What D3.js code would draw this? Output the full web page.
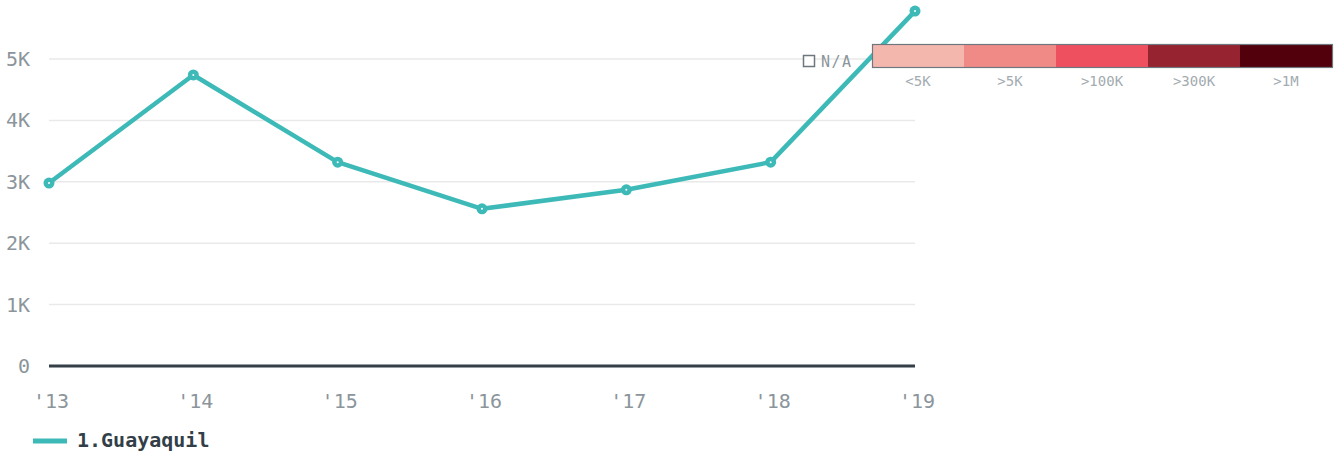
<!DOCTYPE html>
<html>
<head>
<meta charset="utf-8">
<script src="https://cdn.jsdelivr.net/npm/d3@7"></script>
<style>
  body { margin: 0; background: #fff; }
  svg { display: block; font-family: "DejaVu Sans Mono", "Liberation Mono", monospace; }
</style>
</head>
<body>
<div id="chart"></div>
<script>
const years = ["'13", "'14", "'15", "'16", "'17", "'18", "'19"];
const values = [2980, 4740, 3320, 2560, 2870, 3320, 5780];
const seriesName = "1.Guayaquil";
const yTicks = [0, 1000, 2000, 3000, 4000, 5000];
const legendLabels = ["<5K", ">5K", ">100K", ">300K", ">1M"];
const legendColors = ["#f4b7ae", "#f08a87", "#ef5060", "#962330", "#52000c"];

const width = 1340, height = 459;
const svg = d3.select('#chart').append('svg')
  .attr('width', width)
  .attr('height', height);

const x = d3.scalePoint().domain(years).range([49, 915]);
const y = d3.scaleLinear().domain([0, 5000]).range([366, 59]);

// gridlines
svg.append('g').selectAll('line')
  .data(yTicks.filter(d => d > 0))
  .enter().append('line')
  .attr('x1', 49).attr('x2', 915)
  .attr('y1', d => y(d)).attr('y2', d => y(d))
  .attr('stroke', '#e9e9e9').attr('stroke-width', 1.5);

// y labels
svg.append('g').selectAll('text')
  .data(yTicks)
  .enter().append('text')
  .attr('x', 30).attr('y', d => y(d) + 7)
  .attr('text-anchor', 'end')
  .attr('fill', '#8b959b')
  .attr('font-size', 20)
  .text(d => d === 0 ? '0' : (d / 1000) + 'K');

// zero line
svg.append('line')
  .attr('x1', 49).attr('x2', 915)
  .attr('y1', y(0)).attr('y2', y(0))
  .attr('stroke', '#343f48').attr('stroke-width', 3);

// x labels
svg.append('g').selectAll('text')
  .data(years)
  .enter().append('text')
  .attr('x', d => x(d) + 2).attr('y', 408)
  .attr('text-anchor', 'middle')
  .attr('fill', '#8b959b')
  .attr('font-size', 20)
  .text(d => d);

// line
const line = d3.line()
  .x((d, i) => x(years[i]))
  .y(d => y(d));
svg.append('path')
  .datum(values)
  .attr('d', line)
  .attr('fill', 'none')
  .attr('stroke', '#3dbab8')
  .attr('stroke-width', 4.5)
  .attr('stroke-linejoin', 'round');

const pts = svg.append('g').selectAll('g')
  .data(values)
  .enter().append('g')
  .attr('transform', (d, i) => 'translate(' + x(years[i]) + ',' + y(d) + ')');
pts.append('circle').attr('r', 5.5).attr('fill', '#3dbab8');
pts.append('circle').attr('r', 1).attr('fill', '#fff');

// colour legend
const lx = d3.scaleBand().domain(legendLabels).range([872, 1332]);
const leg = svg.append('g');
leg.selectAll('rect')
  .data(legendLabels)
  .enter().append('rect')
  .attr('x', d => lx(d)).attr('y', 45)
  .attr('width', lx.bandwidth()).attr('height', 22)
  .attr('fill', (d, i) => legendColors[i]);
leg.append('rect')
  .attr('x', 872.5).attr('y', 44.5)
  .attr('width', 460).attr('height', 23)
  .attr('fill', 'none').attr('stroke', '#6d777d').attr('stroke-width', 1.2);
leg.selectAll('text')
  .data(legendLabels)
  .enter().append('text')
  .attr('x', d => lx(d) + lx.bandwidth() / 2).attr('y', 86)
  .attr('text-anchor', 'middle')
  .attr('fill', '#a3abb0')
  .attr('font-size', 14)
  .text(d => d);

// N/A
svg.append('rect')
  .attr('x', 803.5).attr('y', 55.5).attr('width', 11).attr('height', 11)
  .attr('fill', '#fff').attr('stroke', '#6d777d').attr('stroke-width', 1.5);
svg.append('text')
  .attr('x', 821).attr('y', 67)
  .attr('fill', '#8b959b')
  .attr('font-size', 15)
  .attr('letter-spacing', 1.5)
  .text('N/A');

// series legend
svg.append('line')
  .attr('x1', 33).attr('x2', 67)
  .attr('y1', 441).attr('y2', 441)
  .attr('stroke', '#3dbab8').attr('stroke-width', 5);
svg.append('text')
  .attr('x', 77).attr('y', 447)
  .attr('fill', '#333f48')
  .attr('font-size', 20)
  .attr('font-weight', 'bold')
  .text(seriesName);
</script>
</body>
</html>
